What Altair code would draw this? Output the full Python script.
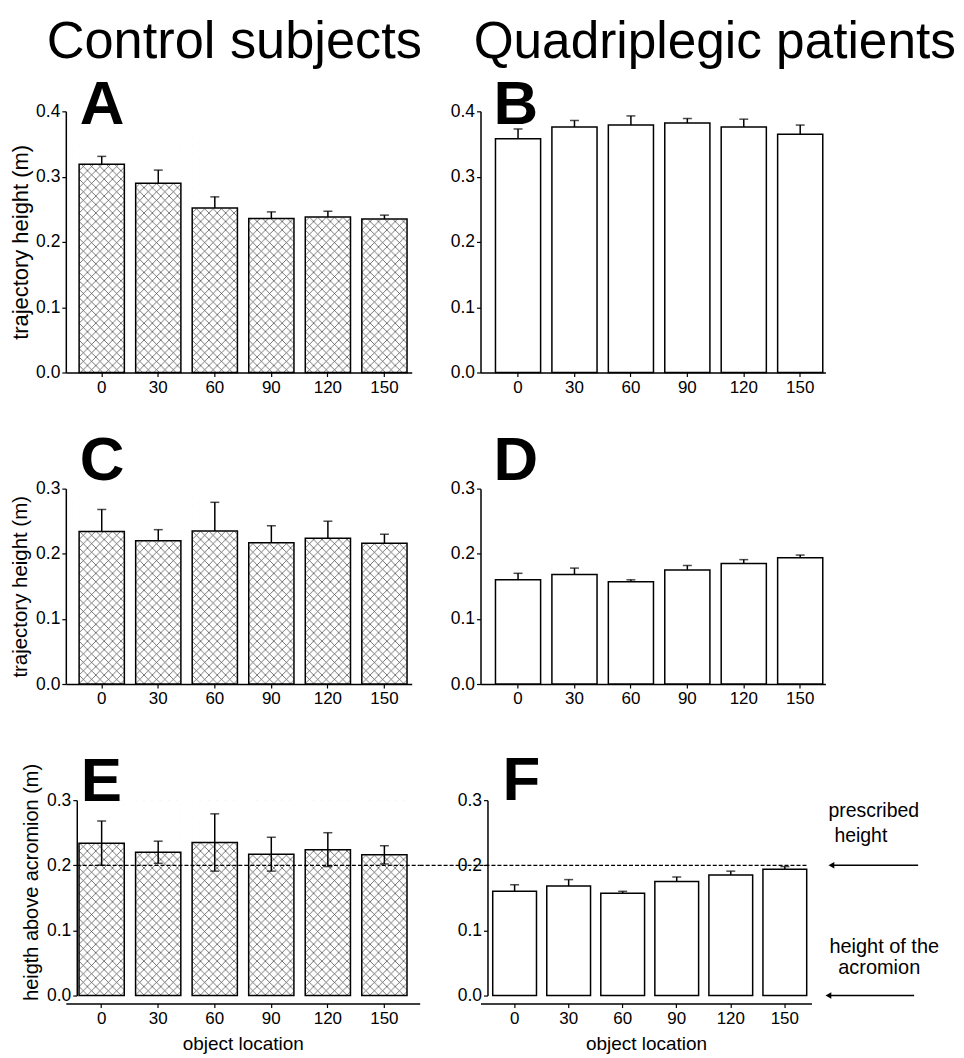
import urllib.parse
import altair as alt
import pandas as pd

FONT = "Liberation Sans"

# ---------------- data ----------------
locations = ["0", "30", "60", "90", "120", "150"]

ctrl_traj = [0.319, 0.290, 0.252, 0.236, 0.238, 0.235]
ctrl_traj_err = [0.012, 0.020, 0.017, 0.010, 0.009, 0.006]
quad_traj = [0.358, 0.376, 0.379, 0.382, 0.376, 0.365]
quad_traj_err = [0.015, 0.010, 0.014, 0.007, 0.012, 0.014]
ctrl_acr = [0.234, 0.220, 0.235, 0.217, 0.224, 0.216]
ctrl_acr_err = [0.034, 0.017, 0.044, 0.026, 0.026, 0.014]
quad_acr = [0.160, 0.168, 0.157, 0.175, 0.185, 0.194]
quad_acr_err = [0.010, 0.010, 0.003, 0.007, 0.006, 0.004]
prescribed_height = 0.2
acromion_height = 0.0

col_titles = ["Control subjects", "Quadriplegic patients"]
y_titles = ["trajectory height (m)", "trajectory height (m)", "heigth above acromion (m)"]
x_title = "object location"
annot_top = ["prescribed", "height"]
annot_bottom = ["height of the", "acromion"]


def hatch_url(w, h, step=8.5):
    svg = (
        f'<svg xmlns="http://www.w3.org/2000/svg" width="{w}" height="{h}" viewBox="0 0 {w} {h}">'
        f'<defs><pattern id="p" patternUnits="userSpaceOnUse" width="{step}" height="{step}">'
        f'<path d="M-1,-1 L{step+1},{step+1} M{step+1},-1 L-1,{step+1}" stroke="#3c3c3c" stroke-width="0.7"/>'
        f'</pattern></defs><rect width="{w}" height="{h}" fill="white"/>'
        f'<rect width="{w}" height="{h}" fill="url(#p)"/></svg>'
    )
    return "data:image/svg+xml;charset=utf-8," + urllib.parse.quote(svg)


one = pd.DataFrame({"k": [0]})


def text_layer(txt, x, y, size, align="left", weight="normal"):
    return alt.Chart(one).mark_text(
        text=txt, fontSize=size, align=align, baseline="alphabetic",
        fontWeight=weight, font=FONT, color="black"
    ).encode(x=alt.value(x), y=alt.value(y))


def panel(vals, errs, ymax, width, height, xs, hatched, letter, letter_x, letter_y,
          both_err=False, ytitle=None, ytitle_size=19, ytitle_pad=5, y_offset=0, ytitle_y=None,
          xtitle=None, x_offset=0, extra=None):
    df = pd.DataFrame({"loc": locations, "v": vals, "e": errs})
    df["hi"] = df["v"] + df["e"]
    df["lo"] = (df["v"] - df["e"]) if both_err else df["v"]
    df["top"] = ymax
    df["zero"] = 0.0

    xaxis_kw = dict(labelAngle=0, tickSize=4, labelPadding=3, offset=x_offset,
                    labelFontSize=17, titleFontSize=19, titleFontWeight="normal",
                    titlePadding=8)
    X = alt.X("loc:N", sort=locations, title=xtitle,
              scale=alt.Scale(paddingInner=xs[0], paddingOuter=xs[1], align=xs[2]),
              axis=alt.Axis(**xaxis_kw))
    nt = int(round(ymax * 10))
    yaxis_kw = dict(values=[i / 10 for i in range(nt + 1)], format=".1f", tickSize=4,
                    labelPadding=2, offset=y_offset, labelFontSize=17.5,
                    titleFontSize=ytitle_size, titleFontWeight="normal",
                    titlePadding=ytitle_pad)
    if ytitle_y is not None:
        yaxis_kw["titleY"] = ytitle_y
    yscale = alt.Scale(domain=[0, ymax], nice=False, zero=True)

    def Y(f):
        return alt.Y(f, type="quantitative", scale=yscale, title=ytitle,
                     axis=alt.Axis(**yaxis_kw))

    base = alt.Chart(df)
    layers = []
    if hatched:
        layers.append(base.mark_image(aspect=False).encode(
            x=X, y=Y("top"), y2="zero:Q", url=alt.value(hatch_url(46, height))))
        layers.append(base.mark_bar(fill="white", stroke="white", strokeWidth=1).encode(
            x=X, y=Y("v"), y2="top:Q"))
        layers.append(base.mark_bar(fillOpacity=0, stroke="black", strokeWidth=1.5).encode(
            x=X, y=Y("v"), y2="zero:Q"))
    else:
        layers.append(base.mark_bar(fill="white", stroke="black", strokeWidth=1.5).encode(
            x=X, y=Y("v"), y2="zero:Q"))
    layers.append(base.mark_rule(color="black", strokeWidth=1.5).encode(
        x=X, y=Y("lo"), y2="hi:Q"))
    layers.append(base.mark_tick(color="black", size=9, thickness=1.5).encode(x=X, y=Y("hi")))
    if both_err:
        layers.append(base.mark_tick(color="black", size=9, thickness=1.5).encode(x=X, y=Y("lo")))
    layers.append(text_layer(letter, letter_x, letter_y, 62, weight="bold"))
    if extra:
        layers.extend(extra(Y))
    return alt.layer(*layers).properties(width=width, height=height)


# ----- extras -----
def extra_A(Y):
    return [
        alt.Chart(one).mark_rule(color="white", strokeWidth=1).encode(
            x=alt.value(-57), x2=alt.value(-56), y=alt.value(-101)),
        text_layer(col_titles[0], 169, -53, 52.5, align="center"),
    ]


def extra_B(Y):
    return [text_layer(col_titles[1], 235, -53, 51.5, align="center")]


def extra_E(Y):
    return [
        alt.Chart(one).mark_rule(color="black", strokeWidth=1.2, strokeDash=[4, 2]).encode(
            y=alt.datum(prescribed_height), x=alt.value(11), x2=alt.value(355)),
    ]


def extra_F(Y):
    return [
        alt.Chart(one).mark_rule(color="black", strokeWidth=1.2, strokeDash=[4, 2]).encode(
            y=alt.datum(prescribed_height), x=alt.value(-61), x2=alt.value(327)),
        alt.Chart(one).mark_rule(color="black", strokeWidth=1.5).encode(
            y=alt.datum(prescribed_height), x=alt.value(352), x2=alt.value(439)),
        alt.Chart(one).mark_point(shape="triangle-left", filled=True, color="black", size=45,
                                  opacity=1).encode(
            y=alt.datum(prescribed_height), x=alt.value(352)),
        alt.Chart(one).mark_rule(color="black", strokeWidth=1.5).encode(
            y=alt.datum(acromion_height), x=alt.value(349), x2=alt.value(435)),
        alt.Chart(one).mark_point(shape="triangle-left", filled=True, color="black", size=45,
                                  opacity=1).encode(
            y=alt.datum(acromion_height), x=alt.value(349)),
        text_layer(annot_top[0], 349, 17, 19.5),
        text_layer(annot_top[1], 355, 42, 19.5),
        text_layer(annot_bottom[0], 405, 153, 20, align="center"),
        text_layer(annot_bottom[1], 400, 174, 20, align="center"),
    ]


A = panel(ctrl_traj, ctrl_traj_err, 0.4, 347, 262, (0.2, 0.159, 0.74), True, "A", 14, 13,
          ytitle=y_titles[0], ytitle_size=22, ytitle_pad=3, extra=extra_A)
B = panel(quad_traj, quad_traj_err, 0.4, 346, 262, (0.2, 0.156, 0.85), False, "B", 13, 13,
          extra=extra_B)
C = panel(ctrl_acr, ctrl_acr_err, 0.3, 347, 196, (0.2, 0.159, 0.74), True, "C", 14, -9,
          ytitle=y_titles[1], ytitle_size=20.5)
D = panel(quad_acr, quad_acr_err, 0.3, 346, 196, (0.2, 0.156, 0.85), False, "D", 13, -9)
E = panel(ctrl_acr, ctrl_acr_err, 0.3, 355, 196, (0.2, 0.229, 0.51), True, "E", 15, 1,
          both_err=True, ytitle=y_titles[2], ytitle_size=20, y_offset=-11, ytitle_y=82,
          xtitle=x_title, x_offset=8, extra=extra_E)
F = panel(quad_acr, quad_acr_err, 0.3, 332, 196, (0.19, 0.157, 0.72), False, "F", 22, 0,
          y_offset=-7, xtitle=x_title, x_offset=8, extra=extra_F)

chart = alt.concat(
    A, B, C, D, E, F, columns=2, spacing={"row": 116.5, "column": 61},
    bounds="flush", align="each"
).properties(padding=0, background="white").configure(font=FONT).configure_axis(
    domainColor="black", domainWidth=1.5, tickColor="black", tickWidth=1.2,
    labelColor="black", titleColor="black", labelFont=FONT, titleFont=FONT, grid=False
).configure_view(strokeWidth=0)

chart.save("out.html", embed_options={"renderer": "svg", "actions": False})
